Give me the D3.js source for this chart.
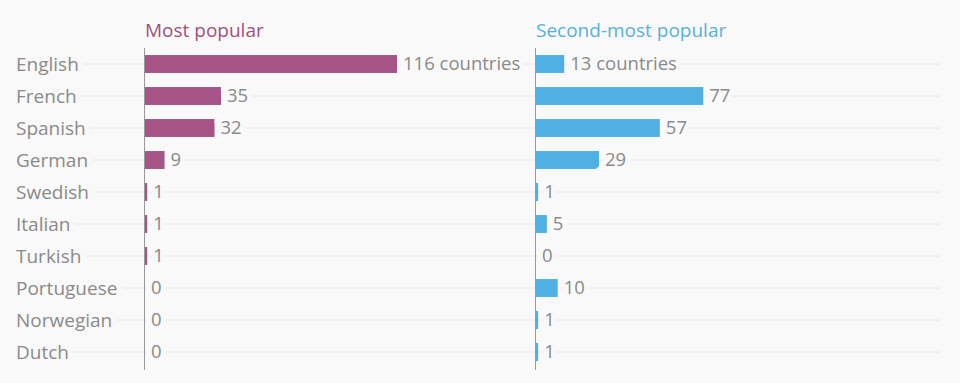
<!DOCTYPE html>
<html><head><meta charset="utf-8">
<script src="https://cdn.jsdelivr.net/npm/d3@7"></script>
<style>
html,body{margin:0;padding:0;background:#f9f9f9;}
svg{display:block;font-family:"Open Sans",sans-serif;}
</style></head>
<body><svg id="c" width="960" height="383"></svg>
<script>
const languages = ["English","French","Spanish","German","Swedish","Italian","Turkish","Portuguese","Norwegian","Dutch"];
const mostPopular = [116,35,32,9,1,1,1,0,0,0];
const secondMost = [13,77,57,29,1,5,0,10,1,1];
const panelTitles = ["Most popular","Second-most popular"];
const unitSuffix = " countries";

const svg = d3.select("#c");
const bg = "#f9f9f9";
const colors = ["#a65487","#51b0e3"];
const titleColors = ["#a0507f","#57b1db"];
const y = d3.scaleBand().domain(languages).range([48,368]).paddingInner(0.44).paddingOuter(0.22);
const x = d3.scaleLinear().domain([0,116]).range([0,252]);
const panelX = [145,536];

svg.append("g").selectAll("line").data(languages).join("line")
  .attr("x1",16).attr("x2",940)
  .attr("y1",d=>y(d)+y.bandwidth()/2).attr("y2",d=>y(d)+y.bandwidth()/2)
  .attr("stroke","#e8e8e8").attr("stroke-width",1);

svg.append("g").selectAll("text").data(languages).join("text")
  .attr("x",16).attr("y",d=>y(d)+y.bandwidth()/2).attr("dy","0.35em")
  .attr("font-size",19).attr("fill","#8a8a8a")
  .attr("stroke",bg).attr("stroke-width",12).attr("paint-order","stroke")
  .text(d=>d);

[mostPopular,secondMost].forEach((vals,i)=>{
  const g = svg.append("g").attr("transform",`translate(${panelX[i]},0)`);
  g.append("text").attr("x",0).attr("y",37).attr("font-size",19)
    .attr("fill",titleColors[i]).text(panelTitles[i]);
  g.selectAll("rect").data(languages).join("rect")
    .attr("x",0).attr("y",d=>y(d)).attr("height",y.bandwidth())
    .attr("width",(d,j)=>Math.max(vals[j]>0?2:0,x(vals[j])))
    .attr("fill",colors[i]);
  g.selectAll("text.v").data(languages).join("text").attr("class","v")
    .attr("x",(d,j)=>Math.max(vals[j]>0?2:0,x(vals[j]))+6)
    .attr("y",d=>y(d)+y.bandwidth()/2).attr("dy","0.35em")
    .attr("font-size",18.5).attr("fill","#8a8a8a")
    .attr("stroke",bg).attr("stroke-width",10).attr("paint-order","stroke")
    .text((d,j)=>vals[j]+(j===0?unitSuffix:""));
  g.append("line").attr("x1",-0.5).attr("x2",-0.5).attr("y1",48).attr("y2",370)
    .attr("stroke","#999").attr("stroke-width",1);
});
</script></body></html>
